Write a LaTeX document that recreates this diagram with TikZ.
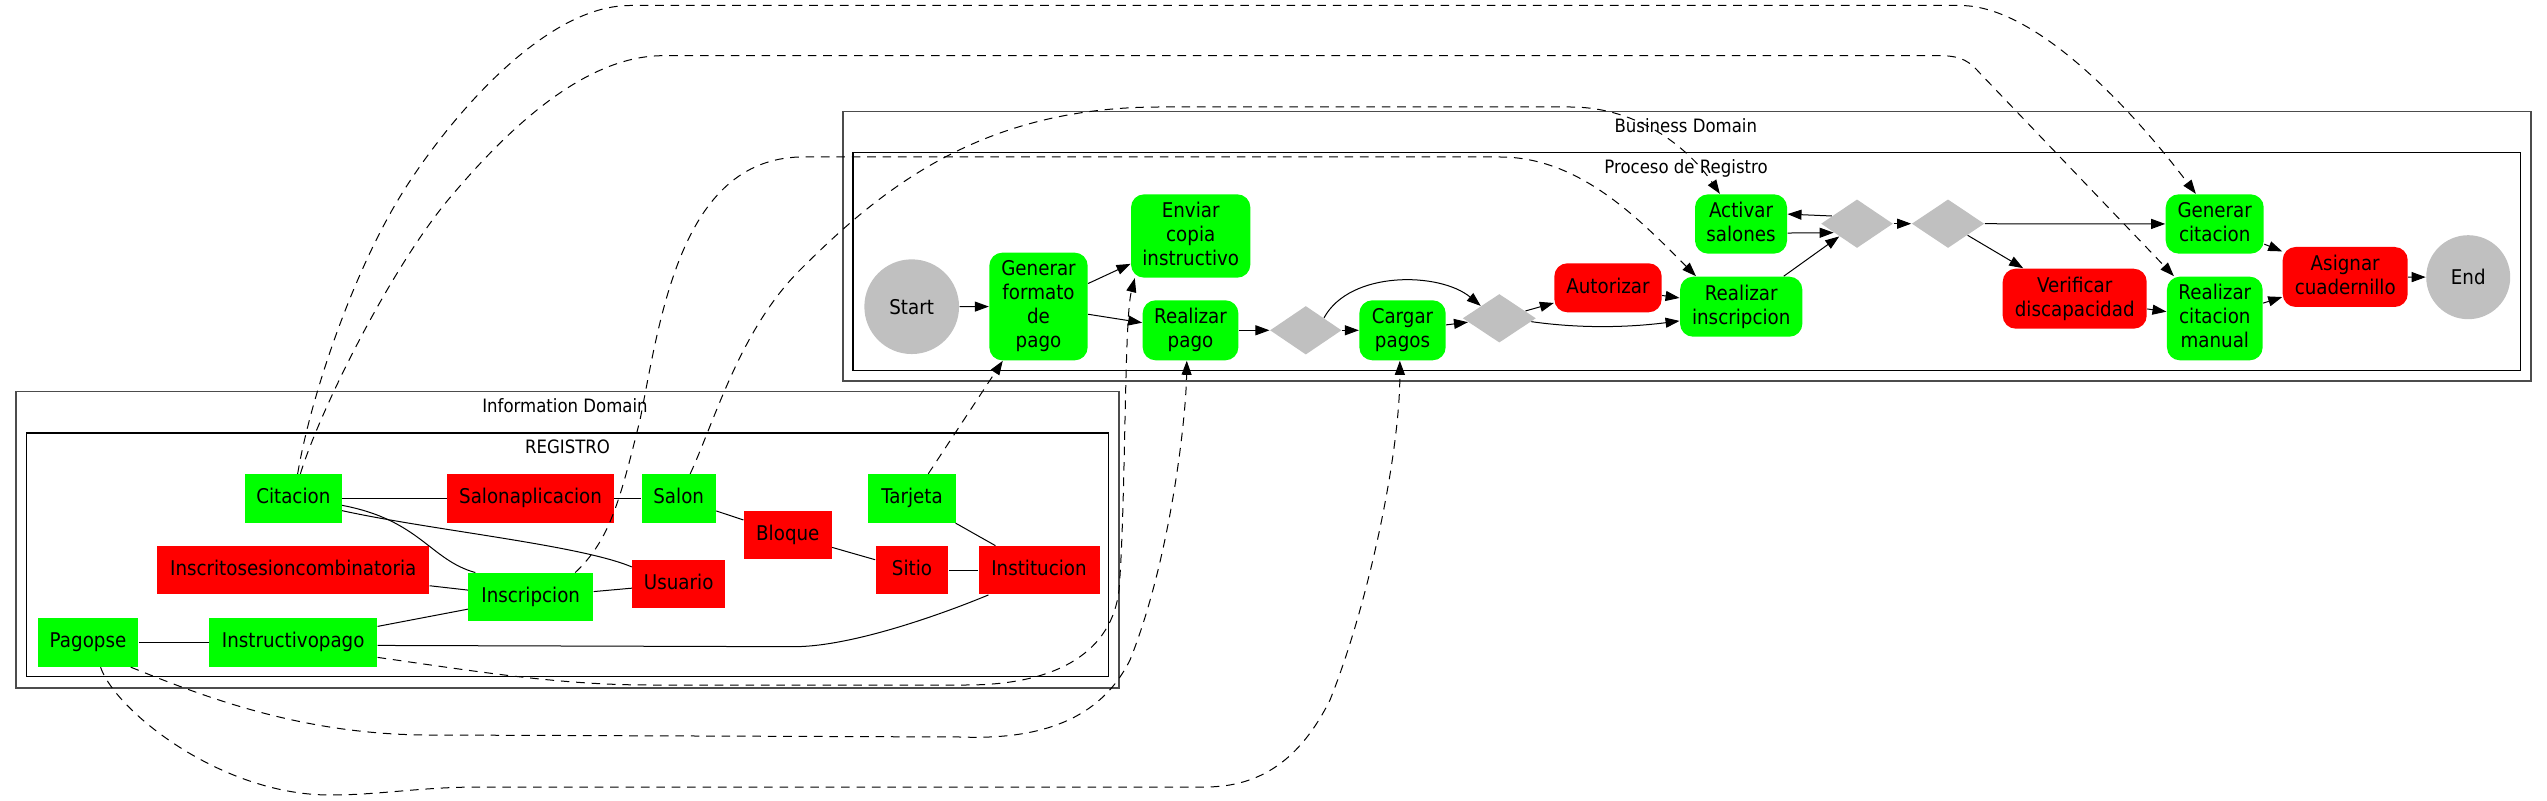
\documentclass[tikz,border=0pt]{standalone}
\usepackage{fontspec}
\setmainfont{DejaVu Sans}[FakeStretch=0.9]
\usetikzlibrary{shapes.geometric,arrows.meta}
\definecolor{actgreen}{HTML}{00FF00}
\definecolor{actred}{HTML}{FF0000}
\definecolor{actgray}{HTML}{C0C0C0}
\tikzset{
    entity/.style={rectangle, fill=#1, inner sep=0pt, minimum height=24.15pt,
        text height=7.7pt, text depth=2.4pt},
    task/.style={rectangle, rounded corners=6.5pt, fill=#1, inner sep=0pt,
        align=center, text depth=2.4pt},
    gate/.style={diamond, fill=actgray, inner sep=0pt,
        minimum width=36pt, minimum height=24.35pt},
    terminal/.style={circle, fill=actgray, inner sep=0pt},
    seq/.style={-{Triangle[length=7pt,width=5pt]}},
    assoc/.style={seq, dash pattern=on 4.3pt off 3.4pt},
    domainbox/.style={draw=black!70, line width=0.8pt},
    groupbox/.style={draw=black, line width=0.55pt},
    clusterlabel/.style={anchor=base, inner sep=0pt, font=\fontsize{9.2}{11}\selectfont}
}

\begin{document}
\begin{tikzpicture}[x=0.5pt,y=-0.5pt,line width=0.5pt,font=\fontsize{10.15}{12}\selectfont]
		\useasboundingbox (0,0) rectangle (2547,801);

		% Business Domain
		\draw [domainbox] (842.7,111.7) rectangle (2531,381);
		\node [clusterlabel] (bizlabel) at (1685.8,132.3) {Business Domain};

		% Proceso de Registro
		\draw [groupbox] (853,152.7) rectangle (2520.3,370.3);
		\node [clusterlabel] (proclabel) at (1686,173.3) {Proceso de Registro};

		% Information Domain
		\draw [domainbox] (15.7,391.7) rectangle (1119.2,687.7);
		\node [clusterlabel] (infolabel) at (565,412.7) {Information Domain};

		% REGISTRO
		\draw [groupbox] (26.3,433) rectangle (1108.4,676.7);
		\node [clusterlabel] (registrolabel) at (567.5,454) {REGISTRO};

		% Process steps
		\node [terminal, minimum size=47.35pt] (start) at (911.7,306.7) {Start};
		\node [task=actgreen, minimum width=49.15pt, minimum height=53.85pt] (generarformato) at (1038.5,306.5) {Generar\\formato\\de\\pago};
		\node [task=actgreen, minimum width=59.65pt, minimum height=41.65pt] (enviarcopia) at (1190.7,236) {Enviar\\copia\\instructivo};
		\node [task=actgreen, minimum width=47.85pt, minimum height=30pt] (realizarpago) at (1190.5,330.3) {Realizar\\pago};
		\node [gate, minimum width=35.85pt] (gate1) at (1305.8,330.3) {};
		\node [task=actgreen, minimum width=43.15pt, minimum height=30pt] (cargarpagos) at (1402.5,330.3) {Cargar\\pagos};
		\node [gate, minimum width=36.65pt] (gate2) at (1499.3,318.3) {};
		\node [task=actred, minimum width=53.65pt, minimum height=24.5pt] (autorizar) at (1608,287.8) {Autorizar};
		\node [task=actgreen, minimum width=61.15pt, minimum height=30pt] (realizarinscripcion) at (1741.2,306.7) {Realizar\\inscripcion};
		\node [task=actgreen, minimum width=46pt, minimum height=29.65pt] (activarsalones) at (1741,224) {Activar\\salones};
		\node [gate] (gate3) at (1857,223.7) {};
		\node [gate, minimum width=36.3pt] (gate4) at (1948,223.7) {};
		\node [task=actred, minimum width=72pt, minimum height=30pt] (verificar) at (2074.7,298.7) {Verificar\\discapacidad};
		\node [task=actgreen, minimum width=49pt, minimum height=29.65pt] (generarcitacion) at (2214.7,224) {Generar\\citacion};
		\node [task=actgreen, minimum width=47.85pt, minimum height=41.85pt] (realizarcitacion) at (2214.8,318.5) {Realizar\\citacion\\manual};
		\node [task=actred, minimum width=62.5pt, minimum height=30pt] (asignar) at (2345.2,277) {Asignar\\cuadernillo};
		\node [terminal, minimum size=42pt] (finish) at (2468.2,277.2) {End};

		% Process flow
		\draw [seq] (start) -- (generarformato);
		\draw [seq] (generarformato) -- (enviarcopia);
		\draw [seq] (generarformato) -- (realizarpago);
		\draw [seq] (realizarpago) -- (gate1);
		\draw [seq] (gate1) -- (cargarpagos);
		\draw [seq] (gate1.north east) .. controls (1350,270) and (1440,272) .. (gate2.north west);
		\draw [seq] (cargarpagos) -- (gate2);
		\draw [seq] (gate2) -- (autorizar);
		\draw [seq] (gate2.-6) .. controls (1590,330) and (1640,326) .. (realizarinscripcion.193);
		\draw [seq] (autorizar) -- (realizarinscripcion);
		\draw [seq] (realizarinscripcion) -- (gate3);
		\draw [seq] (activarsalones.-11) -- (gate3.201);
		\draw [seq] (gate3.163) -- (activarsalones.12);
		\draw [seq] (gate3) -- (gate4);
		\draw [seq] (gate4) -- (generarcitacion);
		\draw [seq] (gate4) -- (verificar);
		\draw [seq] (verificar) -- (realizarcitacion);
		\draw [seq] (generarcitacion) -- (asignar);
		\draw [seq] (realizarcitacion) -- (asignar);
		\draw [seq] (asignar) -- (finish);

		% Entities
		\node [entity=actgreen, minimum width=48.35pt] (citacion) at (293.3,498.5) {Citacion};
		\node [entity=actred, minimum width=83.2pt] (salonaplicacion) at (530.5,498.5) {Salonaplicacion};
		\node [entity=actgreen, minimum width=37pt] (salon) at (678.7,498.5) {Salon};
		\node [entity=actgreen, minimum width=44.35pt] (tarjeta) at (912,498.5) {Tarjeta};
		\node [entity=actred, minimum width=43.85pt] (bloque) at (787.8,534.7) {Bloque};
		\node [entity=actred, minimum width=135.85pt] (inscritos) at (293.2,570.3) {Inscritosesioncombinatoria};
		\node [entity=actred, minimum width=36.35pt] (sitio) at (912,570.3) {Sitio};
		\node [entity=actred, minimum width=60.5pt] (institucion) at (1039,570.3) {Institucion};
		\node [entity=actred, minimum width=46.35pt] (usuario) at (678.7,584) {Usuario};
		\node [entity=actgreen, minimum width=62.35pt] (inscripcion) at (530.7,597.2) {Inscripcion};
		\node [entity=actgreen, minimum width=50.35pt] (pagopse) at (88,642.5) {Pagopse};
		\node [entity=actgreen, minimum width=83.85pt] (instructivopago) at (293.2,642.5) {Instructivopago};

		% Entity relations
		\draw (citacion) -- (salonaplicacion);
		\draw (salonaplicacion) -- (salon);
		\draw (citacion.-8) .. controls (420,520) and (430,560) .. (inscripcion.156);
		\draw (citacion.-14) .. controls (430,530) and (580,545) .. (usuario.160);
		\draw (inscritos) -- (inscripcion);
		\draw (instructivopago) -- (inscripcion);
		\draw (inscripcion) -- (usuario);
		\draw (pagopse) -- (instructivopago);
		\draw (instructivopago.-2) -- (793,646.7) .. controls (850,647) and (940,615) .. (institucion.206);
		\draw (salon) -- (bloque);
		\draw (bloque) -- (sitio);
		\draw (sitio) -- (institucion);
		\draw (tarjeta) -- (institucion);

		% Entities used by process steps
		\draw [assoc] (tarjeta) -- (generarformato);
		\draw [assoc] (instructivopago.-10) .. controls (480,672) and (560,685) .. (650,685) -- (966,685)
			.. controls (1060,685) and (1112,650) .. (1119,590) .. controls (1126,500) and (1124,320) .. (enviarcopia.217);
		\draw [assoc] (pagopse.-30) .. controls (200,695) and (300,735) .. (430,735) -- (960,737)
			.. controls (1040,740) and (1100,720) .. (1130,660) .. controls (1170,560) and (1186,420) .. (realizarpago.263);
		\draw [assoc] (pagopse.-63) .. controls (115,710) and (220,795) .. (330,795) .. controls (380,795) and (420,787) .. (480,787) -- (1205,787)
			.. controls (1260,787) and (1300,760) .. (1330,700) .. controls (1370,600) and (1400,450) .. (cargarpagos.265);
		\draw [assoc] (salon.65) .. controls (715,420) and (740,330) .. (800,270) .. controls (880,190) and (980,107) .. (1160,107) -- (1570,107)
			.. controls (1640,107) and (1690,150) .. (activarsalones.125);
		\draw [assoc] (inscripcion.29) .. controls (610,540) and (620,500) .. (640,420) .. controls (660,320) and (680,160) .. (800,157) -- (1500,157)
			.. controls (1580,157) and (1640,220) .. (realizarinscripcion.146);
		\draw [assoc] (citacion.80) .. controls (310,400) and (350,280) .. (398,200) .. controls (440,130) and (540,5.5) .. (630,5.5) -- (1960,5.5)
			.. controls (2040,5.5) and (2140,120) .. (generarcitacion.122);
		\draw [assoc] (citacion.74) .. controls (320,410) and (390,270) .. (448,200) .. controls (500,138) and (580,55.7) .. (663,55.7) -- (1940,55.7)
			.. controls (1962,55.7) and (1970,62) .. (1980,73.3) -- (realizarcitacion.134);

	\end{tikzpicture}
\end{document}
